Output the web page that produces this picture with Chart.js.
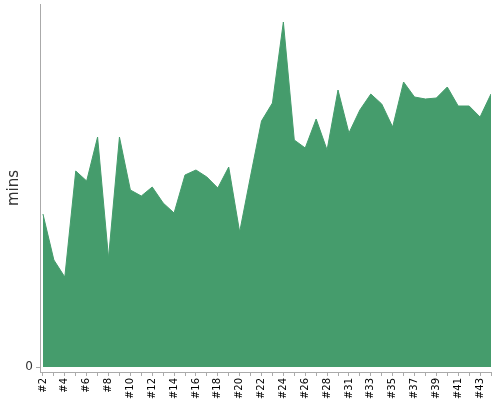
<!DOCTYPE html>
<html>
<head>
<meta charset="utf-8">
<script src="https://cdn.jsdelivr.net/npm/chart.js@4/dist/chart.umd.min.js"></script>
<style>
html,body{margin:0;padding:0;background:#fff;}
#wrap{width:500px;height:400px;}
</style>
</head>
<body>
<div id="wrap"><canvas id="c" width="500" height="400"></canvas></div>
<script>
const categories = ["#2","#3","#4","#5","#6","#7","#8","#9","#10","#11","#12","#13","#14","#15","#16","#17","#18","#19","#20","#21","#22","#23","#24","#25","#26","#27","#28","#30","#31","#32","#33","#34","#35","#36","#37","#38","#39","#40","#41","#42","#43","#44"];
const minsValues = [15.3,10.7,9.0,19.6,18.6,23.0,10.9,23.0,17.7,17.1,18.0,16.4,15.4,19.2,19.7,19.0,17.9,20.0,13.5,19.1,24.6,26.4,34.5,22.7,21.9,24.8,21.7,27.7,23.4,25.7,27.3,26.3,24.0,28.5,27.0,26.8,26.9,28.0,26.1,26.1,25.0,27.3];
const yTickValues = [0];
const yAxisTitle = "mins";

const points = minsValues.map((v,i)=>({x:i,y:v}));
const font = {family:"DejaVu Sans", size:10};

new Chart(document.getElementById('c'), {
  type:'line',
  data:{datasets:[{
    data:points,
    fill:'origin',
    backgroundColor:'rgb(69,156,108)',
    borderColor:'rgb(69,156,108)',
    borderWidth:1,
    pointRadius:0,
    tension:0
  }]},
  options:{
    responsive:false,
    animation:false,
    layout:{padding:{top:4,right:9,left:0,bottom:0}},
    plugins:{legend:{display:false},tooltip:{enabled:false}},
    scales:{
      x:{
        type:'linear',
        min:-0.27,
        max:categories.length-1,
        afterBuildTicks:(s)=>{s.ticks=categories.map((c,i)=>({value:i}));},
        afterFit:(s)=>{s.height=28;s.paddingLeft=0;s.paddingRight=0;},
        ticks:{
          autoSkip:false,
          minRotation:90,maxRotation:90,
          color:'#000',
          font:font,
          padding:2,
          callback:(v)=> (v%2===0 ? categories[v] : '')
        },
        grid:{drawOnChartArea:false,drawTicks:true,tickLength:4,color:'#aaa'},
        border:{display:true,color:'#aaa'}
      },
      y:{
        min:-0.5,
        max:36.3,
        afterBuildTicks:(s)=>{s.ticks=yTickValues.map(v=>({value:v}));},
        afterFit:(s)=>{s.width=40;s.paddingTop=0;s.paddingBottom=0;},
        ticks:{color:'#333',font:{family:"DejaVu Sans",size:12},padding:3},
        grid:{drawOnChartArea:false,drawTicks:true,tickLength:4,color:'#aaa'},
        border:{display:true,color:'#aaa'},
        title:{display:true,text:yAxisTitle,color:'#333',font:{family:"DejaVu Sans",size:15},padding:{top:5,bottom:0}}
      }
    }
  }
});
</script>
</body>
</html>
